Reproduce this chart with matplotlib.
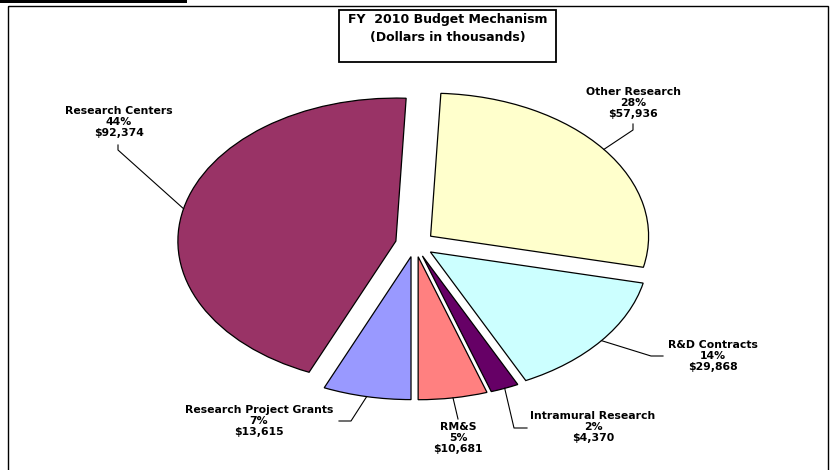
import numpy as np
import matplotlib
matplotlib.use("Agg")
import matplotlib.pyplot as plt
from matplotlib.patches import Rectangle

# ---- data ----
labels = ["Other Research", "R&D Contracts", "Intramural Research", "RM&S",
          "Research Project Grants", "Research Centers"]
values = [57936, 29868, 4370, 10681, 13615, 92374]
percent_labels = ["28%", "14%", "2%", "5%", "7%", "44%"]
dollar_labels = ["$57,936", "$29,868", "$4,370", "$10,681", "$13,615", "$92,374"]
colors = ["#FFFFCC", "#CCFFFF", "#660066", "#FF8080", "#9999FF", "#993366"]
title_lines = ["FY  2010 Budget Mechanism", "(Dollars in thousands)"]

# ---- layout (pixels, y from top) ----
W, H = 830, 470
cx, cy, rx, ry = 415, 244, 218, 143
explode = 0.09
label_pos = [(633, 103), (713, 356), (593, 427), (458, 438), (259, 421), (119, 122)]
leader_pts = [[(633, 130), (633, 124)], [(651, 356), (663, 356)],
              [(514, 428), (527, 428)], [(458, 419)],
              [(351, 421), (339, 421)], [(118, 150), (118, 145)]]

FONT = "DejaVu Sans"
fig = plt.figure(figsize=(W / 100, H / 100), dpi=100)
fig.patch.set_facecolor("white")

ax = fig.add_axes([0, 0, 1, 1])
wedges, _ = ax.pie(values, colors=colors, startangle=87.3, counterclock=False,
                   explode=[explode] * len(values),
                   wedgeprops=dict(edgecolor="black", linewidth=0.9))
ax.set_aspect("auto")
ax.set_xlim(-cx / rx, (W - cx) / rx)
ax.set_ylim(-(H - cy) / ry, cy / ry)
ax.axis("off")

ov = fig.add_axes([0, 0, 1, 1])
ov.set_xlim(0, W)
ov.set_ylim(H, 0)
ov.axis("off")
ov.patch.set_alpha(0)

# outer frame and top bar
ov.add_patch(Rectangle((8, 6), 820, 470, fill=False, edgecolor="black", linewidth=1.0))
ov.add_patch(Rectangle((0, 0), 187, 3, facecolor="black", edgecolor="none"))

# title box
ov.add_patch(Rectangle((339, 10), 217, 52, facecolor="white", edgecolor="black", linewidth=1.3))
ov.text(448, 20, title_lines[0], ha="center", va="center", fontsize=9,
        fontweight="bold", family=FONT)
ov.text(448, 37, title_lines[1], ha="center", va="center", fontsize=9,
        fontweight="bold", family=FONT)

to_ov = ax.transData + ov.transData.inverted()
for w, lab, pct, dol, pos, pts in zip(wedges, labels, percent_labels, dollar_labels,
                                       label_pos, leader_pts):
    m = np.deg2rad((w.theta1 + w.theta2) / 2)
    anchor = to_ov.transform(((1 + explode) * np.cos(m), (1 + explode) * np.sin(m)))
    xs = [anchor[0]] + [p[0] for p in pts]
    ys = [anchor[1]] + [p[1] for p in pts]
    ov.plot(xs, ys, color="black", linewidth=0.8)
    ov.text(pos[0], pos[1], f"{lab}\n{pct}\n{dol}", ha="center", va="center",
            fontsize=7.8, fontweight="bold", family=FONT, linespacing=1.08)

fig.savefig("out.png", dpi=100)
